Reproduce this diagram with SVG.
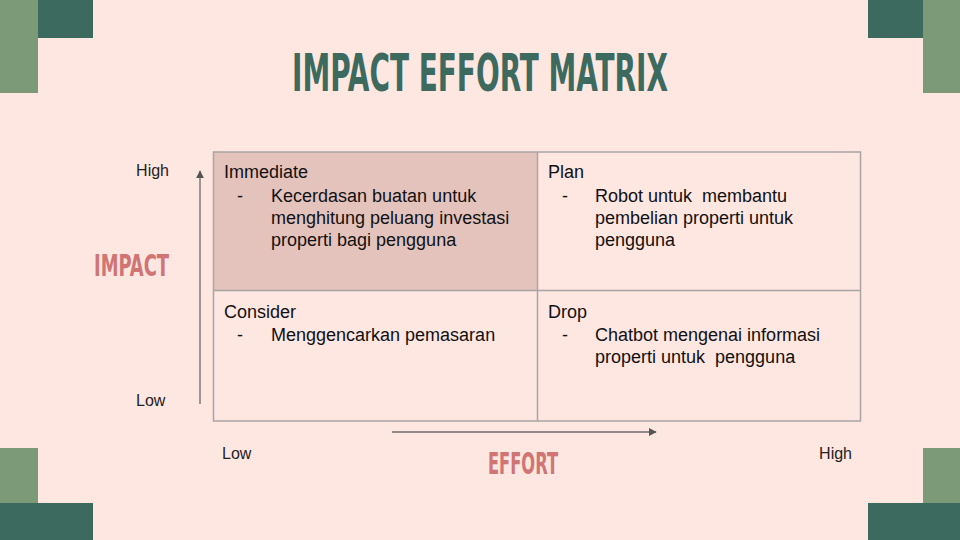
<svg xmlns="http://www.w3.org/2000/svg" width="960" height="540" viewBox="0 0 960 540">
<defs>
<style>
.bg{fill:#FEE6E1}
.dk{fill:#3D6A5E}
.lt{fill:#7D9A78}
.title{font-family:"DejaVu Sans Condensed","DejaVu Sans",sans-serif;font-weight:bold;fill:#3D6A5E}
.axis{font-family:"DejaVu Sans Condensed","DejaVu Sans",sans-serif;font-weight:bold;fill:#D07474}
.lbl{font-family:"Liberation Sans",Arial,sans-serif;font-size:16px;fill:#222}
.cell{font-family:"Liberation Sans",Arial,sans-serif;font-size:18px;fill:#111;white-space:pre}
.grid{fill:none;stroke:#A9A5A3;stroke-width:1.5}
.arr{stroke:#6A6A6A;stroke-width:1.3;fill:none}
</style>
<marker id="ah" viewBox="0 0 10 10" refX="9" refY="5" markerWidth="8" markerHeight="8" markerUnits="userSpaceOnUse" orient="auto">
<path d="M0,0 L10,5 L0,10 z" fill="#555"/>
</marker>
</defs>
<rect class="bg" x="0" y="0" width="960" height="540"/>
<g id="corners">
<rect class="lt" x="0" y="0" width="38" height="93"/>
<rect class="dk" x="38" y="0" width="55" height="38"/>
<rect class="dk" x="868" y="0" width="55" height="38"/>
<rect class="lt" x="923" y="0" width="37" height="93"/>
<rect class="lt" x="0" y="448" width="38" height="55"/>
<rect class="dk" x="0" y="503" width="93" height="37"/>
<rect class="lt" x="923" y="448" width="37" height="55"/>
<rect class="dk" x="868" y="503" width="92" height="37"/>
</g>
<text id="title" class="title" x="292" y="91" font-size="52" textLength="376" lengthAdjust="spacingAndGlyphs">IMPACT EFFORT MATRIX</text>
<g id="matrix">
<rect x="213.5" y="152" width="324" height="138.5" fill="#E5C3BD"/>
<rect class="grid" x="213.5" y="152" width="647" height="269"/>
<line class="grid" x1="537.5" y1="152" x2="537.5" y2="421"/>
<line class="grid" x1="213.5" y1="290.5" x2="860.5" y2="290.5"/>
</g>
<g id="q-immediate">
<text class="cell" x="224" y="178">Immediate</text>
<text class="cell" x="237" y="202">-</text>
<text class="cell" x="271" y="202">Kecerdasan buatan untuk</text>
<text class="cell" x="271" y="224">menghitung peluang investasi</text>
<text class="cell" x="271" y="246">properti bagi pengguna</text>
</g>
<g id="q-plan">
<text class="cell" x="548" y="178">Plan</text>
<text class="cell" x="562" y="202">-</text>
<text class="cell" x="595" y="202">Robot untuk  membantu</text>
<text class="cell" x="595" y="224">pembelian properti untuk</text>
<text class="cell" x="595" y="246">pengguna</text>
</g>
<g id="q-consider">
<text class="cell" x="224" y="318">Consider</text>
<text class="cell" x="237" y="341">-</text>
<text class="cell" x="271" y="341">Menggencarkan pemasaran</text>
</g>
<g id="q-drop">
<text class="cell" x="548" y="318">Drop</text>
<text class="cell" x="562" y="341">-</text>
<text class="cell" x="595" y="341">Chatbot mengenai informasi</text>
<text class="cell" x="595" y="363">properti untuk  pengguna</text>
</g>
<g id="connectors">
<line class="arr" x1="200" y1="404" x2="200" y2="171" marker-end="url(#ah)"/>
<line class="arr" x1="392" y1="432" x2="656" y2="432" marker-end="url(#ah)"/>
</g>
<g id="axis-impact">
<text class="lbl" x="169" y="176" text-anchor="end">High</text>
<text class="axis" x="94" y="276" font-size="31" textLength="75" lengthAdjust="spacingAndGlyphs">IMPACT</text>
<text class="lbl" x="136" y="406">Low</text>
</g>
<g id="axis-effort">
<text class="lbl" x="222" y="459">Low</text>
<text class="axis" x="488" y="474" font-size="31" textLength="70" lengthAdjust="spacingAndGlyphs">EFFORT</text>
<text class="lbl" x="852" y="459" text-anchor="end">High</text>
</g>
</svg>
